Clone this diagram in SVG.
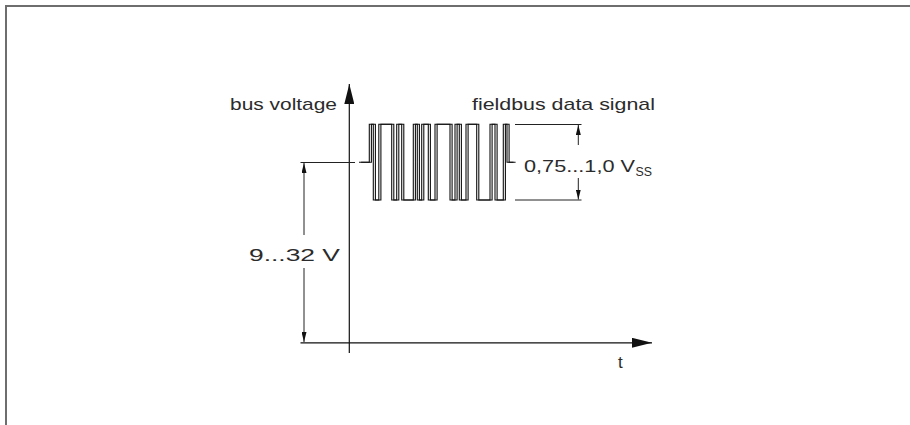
<svg xmlns="http://www.w3.org/2000/svg" width="910" height="425" viewBox="0 0 910 425">
<defs>
<style>
text{font-family:"Liberation Sans",Arial,sans-serif;fill:#2b2b2b;}
.lbl{font-size:17px;}
.wave{fill:none;stroke:#111;stroke-width:1.1;stroke-linejoin:miter;}
.axis{fill:none;stroke:#111;stroke-width:1.2;}
.dim{fill:none;stroke:#222;stroke-width:1;}
.frame{fill:none;stroke:#6e6e6e;stroke-width:2;}
</style>
<marker id="ax" viewBox="0 0 20 10" markerWidth="20" markerHeight="10" refX="20" refY="5" orient="auto" markerUnits="userSpaceOnUse">
<path d="M0,0 L20,5 L0,10 Z" fill="#111"/>
</marker>
<marker id="dm" viewBox="0 0 10 5" markerWidth="10" markerHeight="5" refX="10" refY="2.5" orient="auto" markerUnits="userSpaceOnUse">
<path d="M0,0 L10,2.5 L0,5 Z" fill="#111"/>
</marker>
</defs>
<rect class="frame" x="6" y="6" width="930" height="440"/>
<g id="connectors">
<line id="y-axis" class="axis" x1="349.3" y1="353" x2="349.3" y2="84" marker-end="url(#ax)"/>
<line id="t-axis" class="axis" x1="300.5" y1="342.8" x2="652" y2="342.8" marker-end="url(#ax)"/>
<line class="dim" x1="300.5" y1="162.5" x2="355" y2="162.5"/>
<line class="dim" x1="304" y1="235" x2="304" y2="163" marker-end="url(#dm)"/>
<line class="dim" x1="304" y1="268" x2="304" y2="342" marker-end="url(#dm)"/>
<line class="dim" x1="515" y1="124.5" x2="581.5" y2="124.5"/>
<line class="dim" x1="515" y1="200" x2="581.5" y2="200"/>
<line class="dim" x1="578.3" y1="145" x2="578.3" y2="125" marker-end="url(#dm)"/>
<line class="dim" x1="578.3" y1="178" x2="578.3" y2="199.5" marker-end="url(#dm)"/>
</g>
<g id="signal">
<path id="wv" class="wave" d="M359,162.3 H369.3 V124.3 H373.3 V200 H378.8 V124.3 H391.7 V200 H396.7 V124.3 H401.7 V200 H413.3 V124.3 H417.3 V200 H421.7 V124.3 H428.3 V200 H435 V124.3 H450 V200 H455 V124.3 H459.3 V200 H466 V124.3 H476.7 V200 H490 V124.3 H495 V200 H503.3 V124.3 H507 V162.3 H513.5"/>
<use href="#wv" transform="translate(2.1,0)"/>
</g>
<g id="label-bus-voltage"><text class="lbl" x="230" y="110" textLength="107" lengthAdjust="spacingAndGlyphs">bus voltage</text></g>
<g id="label-fieldbus"><text class="lbl" x="472" y="110" textLength="183" lengthAdjust="spacingAndGlyphs">fieldbus data signal</text></g>
<g id="label-vss"><text class="lbl" x="524" y="171.7" textLength="111" lengthAdjust="spacingAndGlyphs">0,75...1,0 V</text><text x="635.5" y="175.5" font-size="12.5" textLength="16.5" lengthAdjust="spacingAndGlyphs">SS</text></g>
<g id="label-range"><text class="lbl" x="249" y="261" textLength="91" lengthAdjust="spacingAndGlyphs">9...32 V</text></g>
<g id="label-t"><text class="lbl" x="618" y="368">t</text></g>
</svg>
